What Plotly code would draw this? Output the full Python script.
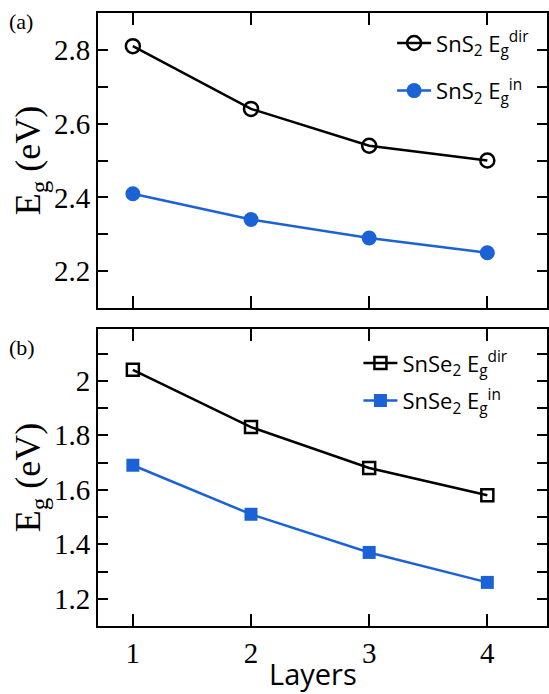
import plotly.graph_objects as go

layers = [1, 2, 3, 4]
sns2_dir = [2.81, 2.64, 2.54, 2.50]
sns2_in = [2.41, 2.34, 2.29, 2.25]
snse2_dir = [2.04, 1.83, 1.68, 1.58]
snse2_in = [1.69, 1.51, 1.37, 1.26]

BLUE = "#1a62d6"
SERIF = "Liberation Serif"
SANS = "Open Sans"

fig = go.Figure()
fig.add_trace(go.Scatter(x=layers, y=sns2_dir, mode="lines+markers",
    name="SnS<sub>2</sub> E<sub>g</sub><sup>dir</sup>", legendgroup="a1",
    line=dict(color="black", width=2.5),
    marker=dict(symbol="circle-open", size=14, color="black", line=dict(width=2.5)),
    xaxis="x", yaxis="y", legend="legend"))
fig.add_trace(go.Scatter(x=layers, y=sns2_in, mode="lines+markers",
    name="SnS<sub>2</sub> E<sub>g</sub><sup>in</sup>", legendgroup="a2",
    line=dict(color=BLUE, width=2.5),
    marker=dict(symbol="circle", size=15, color=BLUE),
    xaxis="x", yaxis="y", legend="legend"))
fig.add_trace(go.Scatter(x=layers, y=snse2_dir, mode="lines+markers",
    name="SnSe<sub>2</sub> E<sub>g</sub><sup>dir</sup>", legendgroup="b1",
    line=dict(color="black", width=2.5),
    marker=dict(symbol="square-open", size=12, color="black", line=dict(width=2.5)),
    xaxis="x2", yaxis="y2", legend="legend2"))
fig.add_trace(go.Scatter(x=layers, y=snse2_in, mode="lines+markers",
    name="SnSe<sub>2</sub> E<sub>g</sub><sup>in</sup>", legendgroup="b2",
    line=dict(color=BLUE, width=2.5),
    marker=dict(symbol="square", size=13, color=BLUE),
    xaxis="x2", yaxis="y2", legend="legend2"))

H = 694
t, b = 13, 68
ph = H - t - b
top_dom = [(626 - 308) / ph, 1]
bot_dom = [0, (626 - 329) / ph]

xcommon = dict(range=[0.705, 4.505], tickvals=[1, 2, 3, 4], ticks="inside", ticklen=12,
               tickwidth=2, tickcolor="black", showline=True, linewidth=2, linecolor="black",
               mirror="ticks", showgrid=False, zeroline=False,
               tickfont=dict(family=SERIF, size=29, color="black"))
ycommon = dict(ticks="inside", ticklen=10, tickwidth=2, tickcolor="black", showline=True,
               linewidth=2, linecolor="black", mirror="ticks", showgrid=False, zeroline=False,
               tickfont=dict(family=SERIF, size=29, color="black"),
               title=dict(text="E<sub>g</sub> (eV)", font=dict(family=SERIF, size=36, color="black"), standoff=2),
               minor=dict(dtick=0.1, ticks="inside", ticklen=10, tickwidth=2, tickcolor="black", showgrid=False))

fig.update_layout(
    width=549, height=H,
    margin=dict(l=98, r=0, t=t, b=b),
    plot_bgcolor="white", paper_bgcolor="white",
    xaxis=dict(**xcommon, domain=[0, 1], anchor="y", showticklabels=False),
    yaxis=dict(**ycommon, domain=top_dom, anchor="x", range=[2.1, 2.9], tick0=2.2, dtick=0.2),
    xaxis2=dict(**xcommon, domain=[0, 1], anchor="y2"),
    yaxis2=dict(**ycommon, domain=bot_dom, anchor="x2", range=[1.1, 2.19], tick0=1.2, dtick=0.2),
    legend=dict(x=0.655, y=0.985, xanchor="left", yanchor="top", bgcolor="rgba(0,0,0,0)",
                font=dict(family=SANS, size=22, color="black"), itemwidth=34, tracegroupgap=16),
    legend2=dict(x=0.58, y=0.463, xanchor="left", yanchor="top", bgcolor="rgba(0,0,0,0)",
                 font=dict(family=SANS, size=22, color="black"), itemwidth=34, tracegroupgap=6),
    showlegend=True,
)
px_w = 549 - 98
def px2paper_x(px):
    return (px - 98) / px_w
def px2paper_y(py):
    return (626 - py) / ph
fig.add_annotation(text="(a)", x=px2paper_x(7), y=px2paper_y(21), xref="paper", yref="paper",
                   xanchor="left", yanchor="middle", showarrow=False,
                   font=dict(family=SERIF, size=22, color="black"))
fig.add_annotation(text="(b)", x=px2paper_x(7), y=px2paper_y(347), xref="paper", yref="paper",
                   xanchor="left", yanchor="middle", showarrow=False,
                   font=dict(family=SERIF, size=22, color="black"))
fig.add_annotation(text="Layers", x=px2paper_x(314), y=px2paper_y(673), xref="paper", yref="paper",
                   xanchor="center", yanchor="middle", showarrow=False,
                   font=dict(family=SANS, size=29, color="black"))

fig.write_html("out.html")
